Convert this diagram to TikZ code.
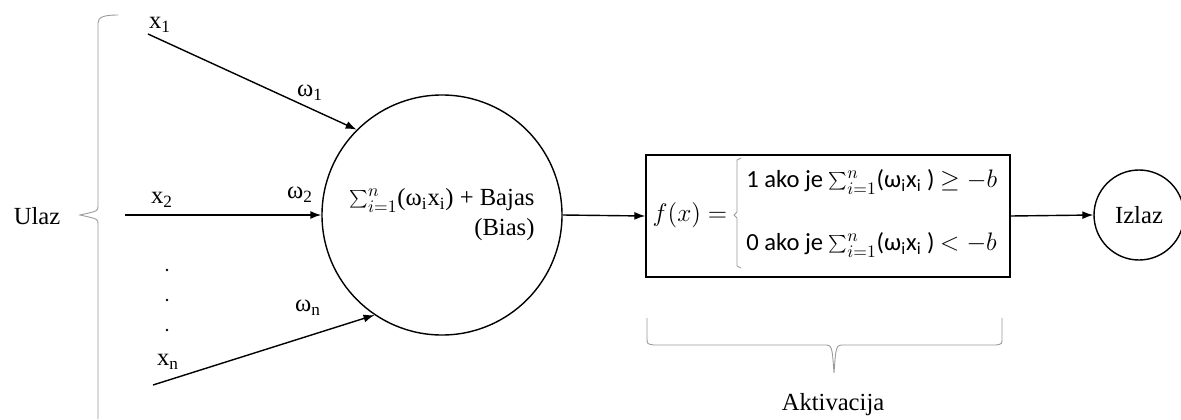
\documentclass[tikz,border=0pt,12pt]{standalone}
\usepackage{fontspec}
\setmainfont{Liberation Serif}
\newfontfamily\calibri{Carlito}
\usetikzlibrary{arrows.meta}

\tikzset{
  veza/.style={-{Latex[length=2.2mm,width=1.6mm]},line width=0.8pt},
  zagrada/.style={draw=gray!80,line width=0.5pt},
  every node/.style={font=\fontsize{14}{17}\selectfont},
}

\begin{document}
\begin{tikzpicture}[x=0.2mm,y=-0.2mm]
  \useasboundingbox (0,0) rectangle (1181,419);
  % ulazi
  \node (x1) at (160,25) {x\textsubscript{1}};
  \node (x2) at (162,200) {x\textsubscript{2}};
  \node (xn) at (168,362) {x\textsubscript{n}};
  \node (w1) at (310,93) {ω\textsubscript{1}};
  \node (w2) at (300,195) {ω\textsubscript{2}};
  \node (wn) at (308,308) {ω\textsubscript{n}};
  \fill (167,270) circle (1.4);
  \fill (167,300) circle (1.4);
  \fill (167,330) circle (1.4);
  \node (ulaz) at (37,216) {Ulaz};
  \draw[zagrada] (118,15) .. controls (104,15) and (98,17) .. (98,23) -- (98,206)
    .. controls (98,211) .. (80,215) .. controls (98,219) .. (98,224) -- (98,419);
  % neuron
  \node[circle,draw,line width=0.8pt,minimum size=48mm,inner sep=0pt,align=right] (zbir) at (442,215)
    {$\textstyle\sum_{i=1}^{n}$(ω\textsubscript{i}x\textsubscript{i}) + Bajas\\(Bias)};
  \coordinate (p1) at (148,34);
  \coordinate (p2) at (125,215);
  \coordinate (pn) at (153,385);
  \draw[veza] (p1) -- (zbir.135);
  \draw[veza] (p2) -- (zbir.west);
  \draw[veza] (pn) -- (zbir.236);
  % aktivacija
  \node[draw,line width=0.8pt,minimum width=72.8mm,minimum height=24.4mm] (akt) at (828,216) {};
  \node (fx) at (690,215) {$f(x) =$};
  \draw[zagrada] (741,158) -- (737,160) -- (737,212) -- (734,215) -- (737,218) -- (737,266) -- (741,268);
  \node[anchor=west,font=\calibri\fontsize{14}{17}\selectfont] (uslov1) at (739,182)
    {1 ako je $\textstyle\sum_{i=1}^{n}$(ω\textsubscript{i}x\textsubscript{i} ) $\geq -b$};
  \node[anchor=west,font=\calibri\fontsize{14}{17}\selectfont] (uslov0) at (739,245)
    {0 ako je $\textstyle\sum_{i=1}^{n}$(ω\textsubscript{i}x\textsubscript{i} ) $< -b$};
  \draw[veza] (zbir.east) -- (akt.west);
  \draw[zagrada] (647,318) -- (647,338) .. controls (647,344) .. (654,345) -- (824,345)
    .. controls (832,345) .. (834,373) .. controls (836,345) .. (844,345) -- (996,345)
    .. controls (1002,344) .. (1002,338) -- (1002,318);
  \node (aktivacija) at (833,405) {Aktivacija};
  % izlaz
  \node[circle,draw,line width=0.8pt,minimum size=18mm,inner sep=0pt] (izlaz) at (1139,215) {Izlaz};
  \draw[veza] (akt.east) -- (izlaz.west);
\end{tikzpicture}
\end{document}
